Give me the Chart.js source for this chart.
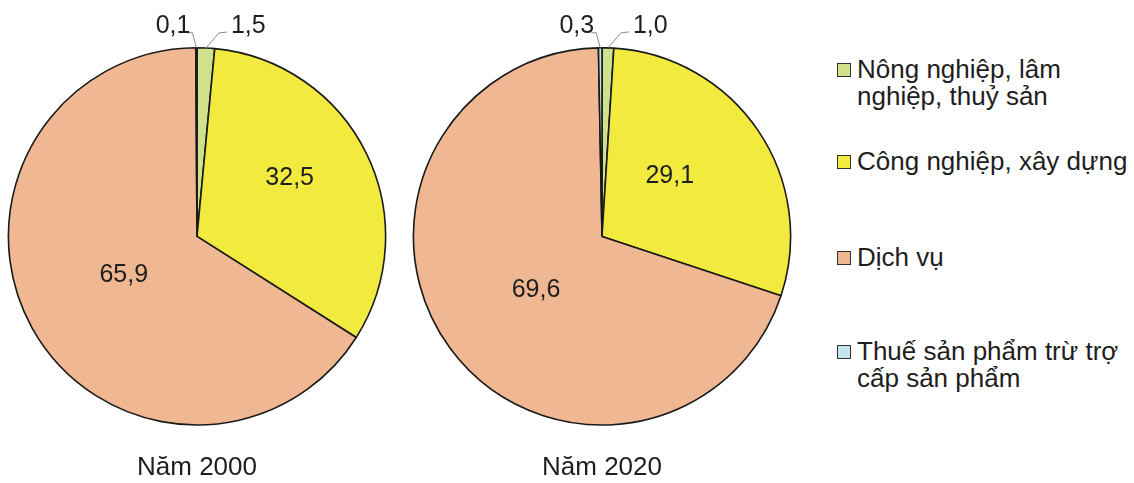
<!DOCTYPE html>
<html>
<head>
<meta charset="utf-8">
<script src="https://cdn.jsdelivr.net/npm/chart.js@4.4.0/dist/chart.umd.min.js"></script>
<style>
  html, body { margin: 0; padding: 0; background: #ffffff; overflow: hidden; }
  body { width: 1134px; height: 483px; position: relative; font-family: 'Liberation Sans', Arial, sans-serif; }
  .pie { position: absolute; top: 0; width: 382px; height: 483px; }
  #legend { position: absolute; left: 0; top: 0; }
  .item { position: absolute; left: 837px; font-size: 26px; line-height: 27px; color: #1e1e1e; white-space: nowrap; }
  .box { position: absolute; left: 0; top: 7px; width: 12px; height: 12px; border: 1.5px solid #333; }
  .txt { position: absolute; left: 20px; top: 0; }
</style>
</head>
<body>
<div class="pie" style="left:6px"><canvas id="c1"></canvas></div>
<div class="pie" style="left:411px"><canvas id="c2"></canvas></div>
<div id="legend"></div>
<script>
// ---- data ----
const categories = [
  ['Nông nghiệp, lâm', 'nghiệp, thuỷ sản'],
  ['Công nghiệp, xây dựng'],
  ['Dịch vụ'],
  ['Thuế sản phẩm trừ trợ', 'cấp sản phẩm']
];
const years = ['Năm 2000', 'Năm 2020'];
const values2000 = [1.5, 32.5, 65.9, 0.1];
const values2020 = [1.0, 29.1, 69.6, 0.3];

// ---- styling ----
const colors = ['#cfe18a', '#f2ea3e', '#efb792', '#c4e7ef'];
const legendTops = [56, 148, 244, 338];
// label placement tweaks for big slices: radius fraction and angle offset (deg)
const labelTweaks = [
  [null, {r: 0.58, da: -6}, {r: 0.44, da: 1}, null],
  [null, {r: 0.48, da: -7.5}, {r: 0.45, da: -2.6}, null]
];
const FONT = "'Liberation Sans', Arial, sans-serif";

function fmt(v) { return v.toFixed(1).replace('.', ','); }

const labelPlugin = {
  id: 'sliceLabels',
  afterDatasetsDraw(chart, args, opts) {
    const ctx = chart.ctx;
    const meta = chart.getDatasetMeta(0);
    const data = chart.data.datasets[0].data;
    const tweaks = opts.tweaks;
    ctx.save();
    ctx.font = '25px ' + FONT;
    ctx.fillStyle = '#1e1e1e';
    meta.data.forEach((arc, i) => {
      const p = arc.getProps(['x', 'y', 'startAngle', 'endAngle', 'outerRadius'], true);
      const mid = (p.startAngle + p.endAngle) / 2;
      const txt = fmt(data[i]);
      if (data[i] >= 5) {
        const t = tweaks[i] || {r: 0.5, da: 0};
        const a = mid + t.da * Math.PI / 180;
        const r = p.outerRadius * t.r;
        ctx.textAlign = 'center';
        ctx.textBaseline = 'middle';
        ctx.fillText(txt, p.x + Math.cos(a) * r, p.y + Math.sin(a) * r);
      } else {
        const ex = p.x + Math.cos(mid) * p.outerRadius;
        const ey = p.y + Math.sin(mid) * p.outerRadius;
        const side = Math.cos(mid) < 0 ? -1 : 1;
        ctx.strokeStyle = '#8a8a8a';
        ctx.lineWidth = 1;
        ctx.beginPath();
        ctx.moveTo(ex, ey);
        let ty;
        if (side < 0) {
          ctx.lineTo(ex - 4, ey - 15);
          ctx.lineTo(ex - 9, ey - 15);
          ty = ey - 15;
        } else {
          ctx.lineTo(ex + 13, ey - 15);
          ctx.lineTo(ex + 21, ey - 16);
          ty = ey - 16;
        }
        ctx.stroke();
        ctx.textBaseline = 'middle';
        if (side < 0) {
          ctx.textAlign = 'right';
          ctx.fillText(txt, ex - 6, ty - 7);
        } else {
          ctx.textAlign = 'left';
          ctx.fillText(txt, ex + 25, ty - 6);
        }
      }
    });
    ctx.restore();
  }
};

function makePie(id, values, title, tweaks) {
  return new Chart(document.getElementById(id), {
    type: 'pie',
    data: {
      labels: categories,
      datasets: [{
        data: values,
        backgroundColor: colors,
        borderColor: '#1a1a1a',
        borderWidth: 1.6,
        hoverOffset: 0
      }]
    },
    options: {
      responsive: true,
      maintainAspectRatio: false,
      animation: false,
      layout: { padding: { top: 47, left: 0, right: 0, bottom: 0 } },
      plugins: {
        legend: { display: false },
        tooltip: { enabled: false },
        title: {
          display: true,
          text: title,
          position: 'bottom',
          color: '#1e1e1e',
          font: { family: FONT, size: 26, weight: 'normal' },
          padding: { top: 26, bottom: 0 }
        },
        sliceLabels: { tweaks: tweaks }
      }
    },
    plugins: [labelPlugin]
  });
}

makePie('c1', values2000, years[0], labelTweaks[0]);
makePie('c2', values2020, years[1], labelTweaks[1]);

// ---- legend (HTML, built from categories/colors) ----
const legend = document.getElementById('legend');
categories.forEach((lines, i) => {
  const item = document.createElement('div');
  item.className = 'item';
  item.style.top = legendTops[i] + 'px';
  const box = document.createElement('span');
  box.className = 'box';
  box.style.background = colors[i];
  const txt = document.createElement('span');
  txt.className = 'txt';
  txt.innerHTML = lines.join('<br>');
  item.appendChild(box);
  item.appendChild(txt);
  legend.appendChild(item);
});
</script>
</body>
</html>
